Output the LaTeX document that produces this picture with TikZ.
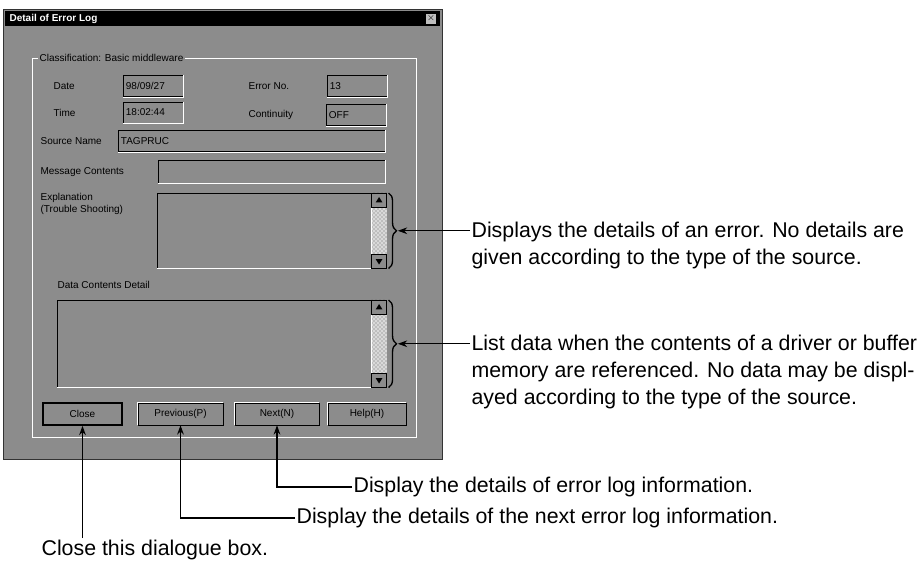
\documentclass[tikz,border=0pt]{standalone}
\usepackage{fontspec}
\setmainfont{Liberation Sans}
\usetikzlibrary{arrows.meta,decorations.pathreplacing,patterns,positioning}
\definecolor{dialoggray}{gray}{0.55}

\begin{document}
\begin{tikzpicture}[x=0.75pt,y=-0.75pt,
  dlgtext/.style={font=\fontsize{7.5}{9}\selectfont,text=black},
  lbl/.style={dlgtext,anchor=west,inner sep=1pt},
  field/.style={dlgtext,draw=black,fill=dialoggray,anchor=west,inner xsep=2pt,inner ysep=0pt,minimum height=16pt,text width=#1,align=left},
  btn/.style={dlgtext,draw=black,fill=dialoggray,minimum height=16.5pt,minimum width=#1,inner sep=0pt},
  note/.style={font=\fontsize{16}{20.25}\selectfont,align=left,inner sep=1pt},
  pointer/.style={-{Stealth[length=7pt,width=5pt]},line width=0.8pt},
  curly/.style={decorate,decoration={brace,amplitude=6pt},line width=1pt}]

\useasboundingbox (0,0) rectangle (922,563);

% 对话框
\fill[dialoggray] (3,9) rectangle (442,459);
\draw[black!80] (3,9) rectangle (442,459);
\fill[black] (5,11) rectangle (440,26);
\node[anchor=west,text=white,font=\bfseries\fontsize{7.5}{9}\selectfont,inner sep=1pt] (title) at (8,18.5) {Detail of Error Log};
\node[draw=black,fill=black!25,minimum size=8pt,inner sep=0pt,font=\fontsize{7}{7}\selectfont] (xbtn) at (431,18.5) {$\times$};

\draw[white] (32,58) rectangle (416,437);
\node[lbl,fill=dialoggray] (class) at (38,58) {Classification: Basic middleware};

\node[lbl] (datelbl) at (52,86) {Date};
\node[field=41pt] (date) at (123,86) {98/09/27};
\node[lbl] (timelbl) at (52,112.5) {Time};
\node[field=41pt] (time) at (123,112.5) {18:02:44};
\node[lbl] (errnolbl) at (247,86) {Error No.};
\node[field=41pt] (errno) at (327,86) {13};
\node[lbl] (contlbl) at (247,115) {Continuity};
\node[field=41pt] (cont) at (326,115) {OFF};
\node[lbl] (srclbl) at (39,141) {Source Name};
\node[field=196pt] (src) at (118,141) {TAGPRUC};
\node[lbl] (msglbl) at (39,172) {Message Contents};
\node[field=166pt,minimum height=17.25pt] (msg) at (158,171.5) {};
\foreach \f in {date,time,errno,cont,src,msg}
  \draw[white] (\f.south west) -- (\f.south east) -- (\f.north east);

% 说明和数据
\node[lbl,anchor=north west,align=left] (expllbl) at (39,192) {Explanation\\(Trouble Shooting)};
\node[draw=black,fill=dialoggray,anchor=north west,minimum width=171.75pt,minimum height=56.25pt] (expl) at (157,193) {};
\node[lbl] (datalbl) at (56,285) {Data Contents Detail};
\node[draw=black,fill=dialoggray,anchor=north west,minimum width=246.75pt,minimum height=65.25pt] (data) at (57,300) {};

\foreach \b in {expl,data} {
  \fill[black!15] ([xshift=-11.25pt]\b.north east) rectangle (\b.south east);
  \fill[pattern=crosshatch dots,pattern color=black!60] ([xshift=-11.25pt]\b.north east) rectangle (\b.south east);
  \draw[white] ([xshift=-11.25pt]\b.north east) -- ([xshift=-11.25pt]\b.south east) -- (\b.south west);
  \draw[fill=dialoggray] ([xshift=-11.25pt]\b.north east) rectangle ([yshift=-10.5pt]\b.north east);
  \draw[fill=dialoggray] ([xshift=-11.25pt,yshift=10.5pt]\b.south east) rectangle (\b.south east);
  \fill ([xshift=-5.6pt,yshift=-3pt]\b.north east) -- ++(-2.5pt,-4pt) -- ++(5pt,0pt) -- cycle;
  \fill ([xshift=-5.6pt,yshift=3pt]\b.south east) -- ++(-2.5pt,4pt) -- ++(5pt,0pt) -- cycle;
}

% 按钮
\node[btn=59.25pt,line width=1.2pt] (close) at (82.5,414) {Close};
\node[btn=63.75pt] (prev) at (180.5,414) {Previous(P)};
\node[btn=63pt] (next) at (277,414) {Next(N)};
\node[btn=58.5pt] (help) at (367,414) {Help(H)};
\foreach \b in {prev,next,help}
  \draw[white] (\b.south west) -- (\b.north west) -- (\b.north east);

% 括号和说明文字
\draw[curly] ([xshift=1.5pt]expl.north east) -- ([xshift=1.5pt]expl.south east);
\coordinate (expltip) at ([xshift=8.5pt]expl.east);
\draw[curly] ([xshift=1.5pt]data.north east) -- ([xshift=1.5pt]data.south east);
\coordinate (datatip) at ([xshift=8.5pt]data.east);

\node[note,anchor=north west] (expltxt) at (470,220) {Displays the details of an error. No details are\\given according to the type of the source.};
\draw[pointer] (expltxt.west |- expltip) -- (expltip);
\node[note,anchor=north west] (datatxt) at (470,333) {List data when the contents of a driver or buffer\\memory are referenced. No data may be displ-\\ayed according to the type of the source.};
\draw[pointer] (datatxt.west |- datatip) -- (datatip);

\node[note,anchor=west] (nexttxt) at (352,487) {Display the details of error log information.};
\draw[pointer] (nexttxt.west) -| (next.south);
\node[note,anchor=west] (prevtxt) at (295,518) {Display the details of the next error log information.};
\draw[pointer] (prevtxt.west) -| (prev.south);
\node[note,anchor=north west] (closetxt) at (40,538) {Close this dialogue box.};
\draw[pointer] (close.south |- closetxt.north) -- (close.south);

\end{tikzpicture}
\end{document}
